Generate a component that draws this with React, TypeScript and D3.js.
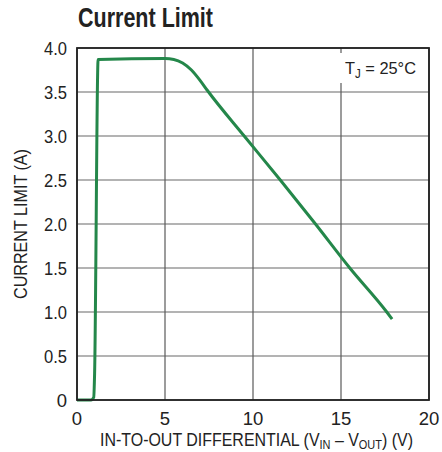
import * as d3 from 'd3'

const voltage = [0, 0.8, 0.95, 1.0, 1.2, 5, 5.5, 6, 6.5, 7, 7.4, 9.5, 11.55, 13.55, 15.5, 17.6, 17.9]
const current = [0, 0, 0.03, 0.3, 3.87, 3.88, 3.87, 3.83, 3.75, 3.63, 3.52, 3.0, 2.5, 2.0, 1.5, 1.0, 0.92]
const xTicks = [0, 5, 10, 15, 20]
const yTicks = [0, 0.5, 1.0, 1.5, 2.0, 2.5, 3.0, 3.5, 4.0]
const yTickLabels = ['0', '0.5', '1.0', '1.5', '2.0', '2.5', '3.0', '3.5', '4.0']

const width = 442
const height = 452
const margin = { left: 77, right: 13, top: 48, bottom: 52 }
const font = "'Liberation Sans', Arial, sans-serif"

export default function App() {
  const x = d3.scaleLinear().domain([0, 20]).range([margin.left, width - margin.right])
  const y = d3.scaleLinear().domain([0, 4]).range([height - margin.bottom, margin.top])

  const pts = voltage.map((v, i) => [v, current[i]] as [number, number])
  const line = d3
    .line<[number, number]>()
    .x((d) => x(d[0]))
    .y((d) => y(d[1]))
    .curve(d3.curveMonotoneX)

  return (
    <svg width={width} height={height} style={{ position: 'absolute', left: 0, top: 0 }}>
      <rect width={width} height={height} fill="white" />
      <text
        x={78}
        y={27}
        fontFamily={font}
        fontWeight="bold"
        fontSize={28}
        fill="#222"
        textLength={135}
        lengthAdjust="spacingAndGlyphs"
      >
        Current Limit
      </text>

      {/* horizontal grid */}
      {yTicks.map((t) => (
        <line key={'h' + t} x1={x(0)} x2={x(20)} y1={y(t)} y2={y(t)} stroke="#9a9a9a" strokeWidth={1.5} />
      ))}
      {/* vertical grid */}
      {xTicks.map((t) => (
        <line key={'v' + t} x1={x(t)} x2={x(t)} y1={y(0)} y2={y(4)} stroke="#5a5a5a" strokeWidth={1.2} />
      ))}

      {/* label box */}
      <rect x={338} y={53} width={88} height={30} fill="white" />
      <text x={345} y={74} fontFamily={font} fontSize={17} fill="#222" textLength={71} lengthAdjust="spacingAndGlyphs">
        T
        <tspan fontSize={12} dy={4}>J</tspan>
        <tspan dy={-4}> = 25°C</tspan>
      </text>

      <path d={line(pts) || undefined} fill="none" stroke="#24874a" strokeWidth={3} strokeLinejoin="round" />

      <rect
        x={x(0)}
        y={y(4)}
        width={x(20) - x(0)}
        height={y(0) - y(4)}
        fill="none"
        stroke="#222"
        strokeWidth={1.8}
      />

      {yTicks.map((t, i) => (
        <text
          key={'yl' + t}
          x={67}
          y={y(t) + 6.5}
          textAnchor="end"
          fontFamily={font}
          fontSize={18.5}
          fill="#222"
          textLength={yTickLabels[i].length > 1 ? 23 : undefined}
          lengthAdjust="spacingAndGlyphs"
        >
          {yTickLabels[i]}
        </text>
      ))}
      {xTicks.map((t) => (
        <text key={'xl' + t} x={x(t)} y={425} textAnchor="middle" fontFamily={font} fontSize={18.5} fill="#222">
          {t}
        </text>
      ))}

      <text
        x={100}
        y={446}
        fontFamily={font}
        fontSize={17.5}
        fill="#222"
        textLength={313}
        lengthAdjust="spacingAndGlyphs"
      >
        IN-TO-OUT DIFFERENTIAL (V
        <tspan fontSize={12} dy={3}>IN</tspan>
        <tspan dy={-3}> – V</tspan>
        <tspan fontSize={12} dy={3}>OUT</tspan>
        <tspan dy={-3}>) (V)</tspan>
      </text>
      <text
        transform={`translate(27, ${(y(0) + y(4)) / 2}) rotate(-90)`}
        textAnchor="middle"
        fontFamily={font}
        fontSize={17.5}
        fill="#222"
        textLength={150}
        lengthAdjust="spacingAndGlyphs"
      >
        CURRENT LIMIT (A)
      </text>
    </svg>
  )
}
